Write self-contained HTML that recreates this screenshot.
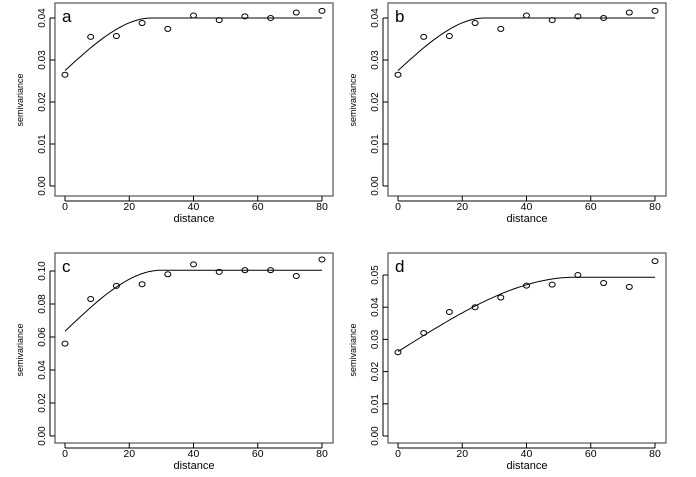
<!DOCTYPE html><html><head><meta charset="utf-8"><style>body{margin:0;background:#fff}svg{display:block}text{font-family:"Liberation Sans",sans-serif;fill:#000}</style></head><body>
<svg id="s" width="696" height="477" xmlns="http://www.w3.org/2000/svg"></svg>
<script>
var s=document.getElementById('s'),h='';
function panel(ox,oy,bh,y0,ppu,ticks,dec,lab,pts,nug,sill,rng){
 var X=function(d){return ox+65+d*(257/80)},Y=function(v){return y0-v*ppu};
 var bb=oy+3+bh;
 h+='<rect x="'+(ox+55)+'" y="'+(oy+3)+'" width="278" height="'+bh+'" fill="none" stroke="#555" stroke-width="1.2"/>';
 for(var d=0;d<=80;d+=20){h+='<line x1="'+X(d)+'" x2="'+X(d)+'" y1="'+bb+'" y2="'+(bb+5)+'" stroke="#000"/><text x="'+X(d)+'" y="'+(bb+14)+'" font-size="10.5" text-anchor="middle">'+d+'</text>';}
 h+='<line x1="'+X(0)+'" x2="'+X(80)+'" y1="'+(bb+5)+'" y2="'+(bb+5)+'" stroke="#000"/>';
 for(var i=0;i<ticks.length;i++){var y=Y(ticks[i]);h+='<line x1="'+(ox+50)+'" x2="'+(ox+55)+'" y1="'+y+'" y2="'+y+'" stroke="#000"/><text transform="translate('+(ox+45)+','+y+') rotate(-90)" font-size="10" text-anchor="middle">'+ticks[i].toFixed(dec)+'</text>';}
 h+='<line x1="'+(ox+50)+'" x2="'+(ox+50)+'" y1="'+Y(ticks[0])+'" y2="'+Y(ticks[ticks.length-1])+'" stroke="#000"/>';
 h+='<text x="'+(ox+194)+'" y="'+(bb+26)+'" font-size="11" text-anchor="middle">distance</text>';
 h+='<text transform="translate('+(ox+23)+','+(oy+100)+') rotate(-90)" font-size="9" text-anchor="middle">semivariance</text>';
 h+='<text x="'+(ox+62)+'" y="'+(oy+22)+'" font-size="17">'+lab+'</text>';
 var p='';for(var d=0;d<=80;d+=1){var v=d<rng?nug+(sill-nug)*(1.5*d/rng-0.5*Math.pow(d/rng,3)):sill;p+=(d?'L':'M')+X(d).toFixed(1)+','+Y(v).toFixed(1);}
 h+='<path d="'+p+'" fill="none" stroke="#000" stroke-width="1"/>';
 for(var i=0;i<pts.length;i++)h+='<ellipse cx="'+X(i*8)+'" cy="'+Y(pts[i])+'" rx="3" ry="2.5" fill="none" stroke="#000"/>';
}
var A=[0.0265,0.0355,0.0357,0.0388,0.0374,0.0406,0.0395,0.0404,0.0400,0.0413,0.0417];
panel(0,0,193,186,4200,[0,0.01,0.02,0.03,0.04],2,'a',A,0.0275,0.040,27);
panel(333,0,193,186,4200,[0,0.01,0.02,0.03,0.04],2,'b',A,0.0275,0.040,27);
panel(0,250,190,436,1650,[0,0.02,0.04,0.06,0.08,0.10],2,'c',[0.056,0.083,0.091,0.092,0.098,0.104,0.0995,0.1005,0.1005,0.097,0.107],0.0635,0.1005,30);
panel(333,250,190,436,3220,[0,0.01,0.02,0.03,0.04,0.05],2,'d',[0.026,0.032,0.0385,0.040,0.043,0.0467,0.047,0.050,0.0475,0.0463,0.0543],0.0262,0.0493,55);
s.innerHTML=h;
</script></body></html>
